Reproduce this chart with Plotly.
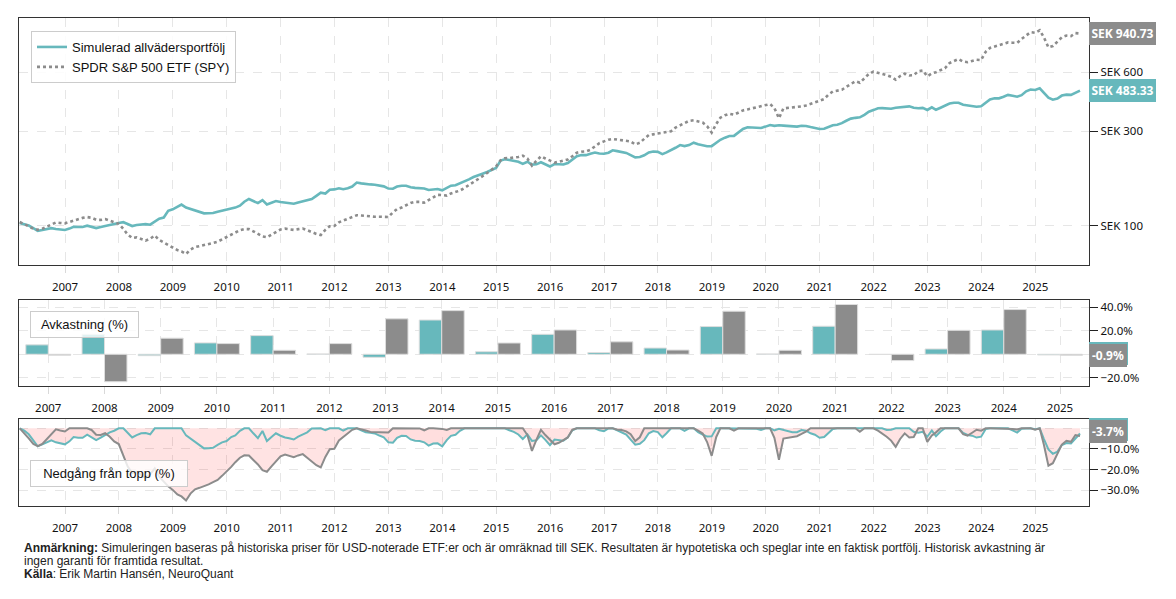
import numpy as np
import pandas as pd
import plotly.graph_objects as go

# ---------------- data ----------------
months = pd.period_range("2006-02", "2025-10", freq="M")
dates = months.to_timestamp(how="end").normalize()

portfolio = [
    # 2006 (Feb-Dec)
    103, 101.8, 100, 97, 94, 95, 96, 97, 96, 95.5, 95,
    # 2007
    96.5, 98.6, 98.3, 98.3, 99.8, 98.3, 97.1, 98.3, 99.7, 101, 101.8, 103,
    # 2008
    104, 101.8, 99.4, 100.6, 101.5, 101.6, 101, 104.8, 108.4, 109.8, 118.7, 120.9,
    # 2009
    124.4, 127.7, 123.3, 121.2, 119.4, 117.5, 115.3, 115.4, 115.7, 117.5, 119, 119.8,
    # 2010
    122.3, 123.3, 126.1, 132, 136.4, 133.1, 129.9, 134.6, 128, 130.6, 133.1, 131.5,
    # 2011
    130.3, 129.8, 129, 130.9, 132.3, 133.7, 136.2, 141.4, 146.7, 145.3, 152, 152.5,
    # 2012
    154.6, 152.9, 154.6, 157.7, 165.2, 163.6, 162.1, 161.6, 161.1, 159.4, 158, 154,
    # 2013
    153.7, 157.6, 159.2, 159, 156.3, 155.2, 155.1, 154, 151.4, 153, 153.2, 150.8,
    # 2014
    155.8, 159.2, 160, 163.2, 167.4, 171.4, 176.1, 180.4, 183.2, 186.7, 192, 196,
    # 2015
    213.5, 216.8, 214.8, 213, 210.3, 205.5, 210.5, 203.6, 204.3, 209.4, 204.7, 199.1,
    # 2016
    205, 204.2, 203.8, 207.4, 214.8, 224.4, 227.9, 227.4, 231.3, 234.3, 232, 231,
    # 2017
    234.1, 240.7, 238.4, 235.6, 233.4, 227.6, 221.6, 222.6, 226.9, 234.9, 237.4, 236.3,
    # 2018
    230.2, 234.9, 240.7, 247.9, 255.8, 252.7, 255.8, 263, 258.2, 255.1, 252.5, 252.7,
    # 2019
    263.7, 272.1, 278.9, 284.3, 284.7, 297.8, 308.9, 314.8, 314.8, 314, 312.2, 317.3,
    # 2020
    323.4, 320.2, 322.5, 321, 319.7, 317.4, 317.4, 320.7, 319.7, 315.6, 313.3, 308.6,
    # 2021
    309.7, 315.8, 322.4, 324.2, 330.3, 339.7, 348.3, 351.5, 353.6, 364.3, 377.7, 384.8,
    # 2022
    393.4, 393.8, 390.6, 391, 395.7, 397.5, 400.8, 401.8, 395, 393.2, 395, 385.3,
    # 2023
    397.6, 386.3, 395.7, 404.1, 415.2, 419.1, 419.1, 409.9, 405.6, 404.1, 400.3, 402.1,
    # 2024
    417.5, 436.1, 441.3, 441.3, 449.3, 459.3, 454.5, 449.8, 458.2, 479.3, 488.9, 486.7,
    # 2025 (Jan-Oct)
    495.8, 470.5, 445.3, 434.6, 439.8, 455.8, 460.6, 459.3, 471.6, 483.33,
]

spy = [
    # 2006 (Feb-Dec)
    104.2, 101.8, 99.1, 96.3, 95.2, 96.3, 98.8, 101.6, 103.7, 103.1, 102.6,
    # 2007
    104.2, 106, 107.5, 109.4, 110.4, 109.5, 107, 106.8, 107.8, 105.9, 103.4, 102,
    # 2008
    96.1, 90.1, 86.5, 87.1, 85.5, 83.8, 85.8, 89, 84.5, 81.9, 79.4, 77.5,
    # 2009
    75.1, 74, 71.8, 75.5, 77.8, 78.6, 79.4, 80.4, 81.6, 82.8, 85, 87.3,
    # 2010
    89.8, 92.3, 94.7, 96, 95.9, 93.5, 91.1, 88, 87.2, 90.1, 92.7, 95.4,
    # 2011
    96.4, 95.8, 95, 95.9, 96.6, 94.7, 92.5, 90.7, 89.5, 95.1, 99.2, 99.5,
    # 2012
    103.9, 105.9, 107.8, 109.6, 112.8, 112.4, 111.6, 110.8, 110.8, 110.8, 110.8, 110.5,
    # 2013
    116.6, 121.2, 123.4, 127.3, 130.3, 131.9, 131.8, 130.5, 134.6, 139.5, 143.1, 142.7,
    # 2014
    141.9, 145.5, 148.1, 150.4, 155.1, 160.2, 165.3, 171.6, 177.9, 184.6, 191.3, 199.4,
    # 2015
    214.2, 219.3, 219.8, 220.3, 222.6, 226.1, 218.7, 201.4, 213.5, 224.4, 218.7, 213.9,
    # 2016
    208.6, 210.3, 213, 216.1, 224.6, 234.1, 236.5, 237.6, 242.1, 252, 261.5, 267,
    # 2017
    272.4, 274.6, 272.8, 272.4, 270.5, 266.8, 257.6, 262.7, 275.2, 287.5, 289.9, 292.4,
    # 2018
    293.4, 297.5, 300.7, 313.7, 323, 330.9, 339.3, 341.6, 337.6, 332.9, 318.9, 296,
    # 2019
    327.3, 352.3, 362.3, 368.6, 364.5, 375.5, 383.4, 387.9, 392.4, 398, 405, 410,
    # 2020
    413, 393.8, 350, 392.6, 394.5, 395.4, 397.2, 401.7, 406.4, 413, 420.6, 428.5,
    # 2021
    437.6, 459.8, 478.1, 482, 487.6, 504.6, 523.2, 538.5, 529.4, 554.7, 586.7, 603.3,
    # 2022
    596.3, 588.6, 578.6, 567.5, 549.2, 572.2, 588.6, 576.6, 578, 605.3, 611, 571,
    # 2023
    590, 599, 612, 627.5, 667, 682, 698, 678, 673, 683, 693, 690,
    # 2024
    760, 795, 809, 822, 832, 848, 845, 843, 883, 923, 955, 949,
    # 2025 (Jan-Oct)
    977, 900, 800, 812, 860, 900, 918, 913, 945, 940.73,
]

years = list(range(2007, 2026))
portfolio_returns = [8.0, 17.0, -1.2, 9.7, 15.9, 0.3, -2.6, 29.2, 2.1, 17.0,
                     1.5, 5.3, 23.6, 0.3, 23.9, -0.2, 4.5, 20.7, -0.6]
spy_returns = [-0.8, -23.4, 13.7, 9.1, 3.4, 9.1, 30.2, 37.2, 9.6, 20.7,
               10.6, 3.6, 36.7, 3.4, 42.4, -5.4, 20.4, 38.1, -0.9]

year_ticks = [str(y) for y in years]
date_ticks = [f"{y}-01-01" for y in years]

name_port = "Simulerad allvädersportfölj"
name_spy = "SPDR S&P 500 ETF (SPY)"

# ---------------- styling ----------------
TEAL = "#67b8bc"
GRAY = "#8c8c8c"
TICKFONT = dict(family="Noto Sans", size=11.5, color="#111111")
GRID = "#e6e6e6"
FRAME = "#333333"

W, H = 1176, 599
L, R, T, B = 19, 87, 18, 93
PW, PH = W - L - R, H - T - B


def px_y(p):  # pixel row -> paper y
    return (H - B - p) / PH


def px_x(p):  # pixel column -> paper x
    return (p - L) / PW


port = np.array(portfolio, dtype=float)
spyv = np.array(spy, dtype=float)
assert len(port) == len(dates) == len(spyv)
dd_port = (port / np.maximum.accumulate(port) - 1) * 100
dd_spy = (spyv / np.maximum.accumulate(spyv) - 1) * 100
dd_low = np.minimum(dd_port, dd_spy)

fig = go.Figure()

# top panel
fig.add_trace(go.Scatter(x=dates, y=port, name=name_port, mode="lines",
                         line=dict(color=TEAL, width=2.6), xaxis="x", yaxis="y",
                         legendrank=1))
fig.add_trace(go.Scatter(x=dates, y=spyv, name=name_spy, mode="lines",
                         line=dict(color=GRAY, width=2.6, dash="3px,3px"),
                         xaxis="x", yaxis="y", legendrank=2))

# middle panel bars
bar_line = dict(color="#dedede", width=1)
fig.add_trace(go.Bar(x=years, y=portfolio_returns, marker=dict(color=TEAL, line=bar_line),
                     showlegend=False, xaxis="x2", yaxis="y2", offsetgroup="p"))
fig.add_trace(go.Bar(x=years, y=spy_returns, marker=dict(color=GRAY, line=bar_line),
                     showlegend=False, xaxis="x2", yaxis="y2", offsetgroup="s"))

# bottom panel drawdown fills
zeros = np.zeros(len(dates))
fig.add_trace(go.Scatter(x=dates, y=zeros, mode="lines", line=dict(width=0),
                         showlegend=False, hoverinfo="skip", xaxis="x3", yaxis="y3"))
fig.add_trace(go.Scatter(x=dates, y=dd_spy, mode="lines", line=dict(width=0),
                         fill="tonexty", fillcolor="rgba(255,0,0,0.11)",
                         showlegend=False, hoverinfo="skip", xaxis="x3", yaxis="y3"))
fig.add_trace(go.Scatter(x=dates, y=dd_spy, mode="lines", line=dict(width=0),
                         showlegend=False, hoverinfo="skip", xaxis="x3", yaxis="y3"))
fig.add_trace(go.Scatter(x=dates, y=dd_low, mode="lines", line=dict(width=0),
                         fill="tonexty", fillcolor="rgba(255,0,0,0.13)",
                         showlegend=False, hoverinfo="skip", xaxis="x3", yaxis="y3"))
fig.add_trace(go.Scatter(x=dates, y=dd_port, mode="lines", line=dict(color=TEAL, width=2),
                         showlegend=False, xaxis="x3", yaxis="y3"))
fig.add_trace(go.Scatter(x=dates, y=dd_spy, mode="lines", line=dict(color=GRAY, width=2),
                         showlegend=False, xaxis="x3", yaxis="y3"))

common_x = dict(showline=True, mirror=True, linecolor=FRAME, linewidth=1.3,
                showgrid=True, gridcolor=GRID, griddash="dash", gridwidth=1,
                ticks="outside", ticklen=7, tickcolor="#d9d9d9",
                tickfont=TICKFONT, zeroline=False, domain=[0, 1],
                ticklabelstandoff=4)
common_y = dict(showline=True, mirror=True, linecolor=FRAME, linewidth=1.3,
                showgrid=True, gridcolor=GRID, griddash="dash", gridwidth=1,
                ticks="outside", ticklen=8, tickcolor="#222222", tickwidth=1.2,
                tickfont=TICKFONT, zeroline=False, side="right")

date_range = ["2006-02-23", "2025-12-31"]

fig.update_layout(
    width=W, height=H,
    margin=dict(l=L, r=R, t=T, b=B, pad=0),
    paper_bgcolor="white", plot_bgcolor="white",
    barmode="group", bargap=0.2, bargroupgap=0.0,
    hovermode=False,
    font=dict(family="Noto Sans", color="#111111"),
    xaxis=dict(common_x, anchor="y", type="date", range=date_range,
               tickvals=date_ticks, ticktext=year_ticks),
    yaxis=dict(common_y, anchor="x", type="log", domain=[px_y(265), 1],
               range=[1.80, 3.052], tickvals=[100, 300, 600],
               ticktext=["SEK 100", "SEK 300", "SEK 600"]),
    xaxis2=dict(common_x, anchor="y2", range=[2006.479, 2025.516],
                tickvals=years, ticktext=year_ticks),
    yaxis2=dict(common_y, anchor="x2", domain=[px_y(385.7), px_y(299.7)],
                range=[-26.8, 46.5], tickvals=[-20, 0, 20, 40],
                ticktext=["\u221220.0%", "", "20.0%", "40.0%"]),
    xaxis3=dict(common_x, anchor="y3", type="date", range=date_range,
                tickvals=date_ticks, ticktext=year_ticks),
    yaxis3=dict(common_y, anchor="x3", domain=[0, px_y(419)],
                range=[-37.6, 4.5], tickvals=[-30, -20, -10, 0],
                ticktext=["\u221230.0%", "\u221220.0%", "\u221210.0%", ""]),
    legend=dict(x=px_x(31), y=px_y(31), xanchor="left", yanchor="top",
                traceorder="normal",
                bgcolor="rgba(255,255,255,0.85)", bordercolor="#cccccc", borderwidth=1,
                font=dict(family="Liberation Sans", size=13, color="#111111"),
                tracegroupgap=0, itemwidth=30),
)

ann = []


def value_box(xref, yref, y, text, color, w, yshift=0):
    return dict(xref=xref, x=1, xanchor="left", yref=yref, y=y, yanchor="middle",
                text=f"<b>{text}</b>" if text else "&nbsp;", showarrow=False, bgcolor=color,
                font=dict(family="Noto Sans", size=12, color="white"),
                width=w, height=19, borderpad=2, borderwidth=0, yshift=yshift)


ann.append(value_box("x domain", "y", np.log10(spyv[-1]), f"SEK {spyv[-1]:.2f}", GRAY, 63))
ann.append(value_box("x domain", "y", np.log10(port[-1]), f"SEK {port[-1]:.2f}", TEAL, 63))
# portfolio labels in the lower panels sit behind the SPY labels (only their edge shows)
ann.append(value_box("x2 domain", "y2", portfolio_returns[-1] + 0.9, "", TEAL, 35))
ann.append(value_box("x2 domain", "y2", spy_returns[-1], f"{spy_returns[-1]:.1f}%", GRAY, 34))
ann.append(value_box("x3 domain", "y3", dd_port[-1], "", TEAL, 35, yshift=4))
ann.append(value_box("x3 domain", "y3", dd_spy[-1], f"{dd_spy[-1]:.1f}%", GRAY, 34, yshift=4))


def panel_label(text, x0, y0, w):
    return dict(xref="paper", x=px_x(x0), xanchor="left", yref="paper", y=px_y(y0),
                yanchor="top", text=text, showarrow=False, align="center",
                bgcolor="rgba(255,255,255,0.8)", bordercolor="#cccccc", borderwidth=1,
                borderpad=2, width=w, height=21,
                font=dict(family="Liberation Sans", size=13, color="#111111"))


ann.append(panel_label("Avkastning (%)", 30, 310.5, 103))
ann.append(panel_label("Nedgång från topp (%)", 30, 460, 152))

foot_font = dict(family="Liberation Sans", size=12, color="#222222")
foot_lines = [
    ("<b>Anmärkning:</b> Simuleringen baseras på historiska priser för USD-noterade ETF:er "
     "och är omräknad till SEK. Resultaten är hypotetiska och speglar inte en faktisk portfölj. "
     "Historisk avkastning är", 548),
    ("ingen garanti för framtida resultat.", 561),
    ("<b>Källa</b>: Erik Martin Hansén, NeuroQuant", 574),
]
for txt, yp in foot_lines:
    ann.append(dict(xref="paper", x=px_x(22), xanchor="left", yref="paper", y=px_y(yp),
                    yanchor="middle", text=txt, showarrow=False, align="left",
                    font=foot_font))

fig.update_layout(annotations=ann)

fig.write_html("out.html", config={"displayModeBar": False},
               post_script="document.body.style.margin='0';")
